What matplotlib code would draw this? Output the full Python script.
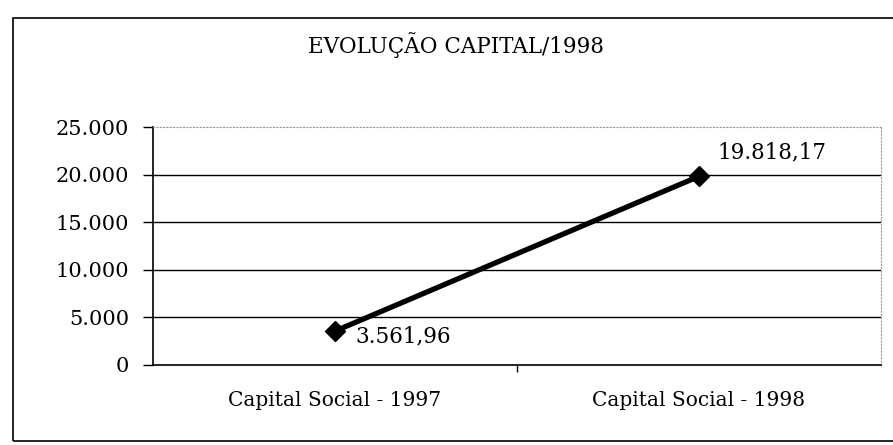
import numpy as np
from matplotlib import pyplot as plt
from matplotlib.ticker import FuncFormatter, FixedLocator
from matplotlib.patches import Rectangle

categories = ['Capital Social - 1997', 'Capital Social - 1998']
values = [3561.96, 19818.17]
y_ticks = [0, 5000, 10000, 15000, 20000, 25000]
title = 'EVOLUÇÃO CAPITAL/1998'


def br_number(v, decimals=0):
    s = f'{v:,.{decimals}f}'
    return s.replace(',', '#').replace('.', ',').replace('#', '.')


plt.rcParams['font.family'] = ['DejaVu Serif']

fig = plt.figure(figsize=(8.93, 4.45), dpi=100)
ax = fig.add_axes([0.1713, 0.1798, 0.8153, 0.5348])

# outer frame of the scanned chart
fig.patches.append(Rectangle((13 / 893, 1 - 441 / 445), 0.99, (441 - 18) / 445,
                             transform=fig.transFigure, fill=False,
                             edgecolor='black', lw=1.2))

x = np.arange(len(categories))
ax.set_xlim(-0.5, 1.5)
ax.set_ylim(0, 25000)

for t in y_ticks[1:-1]:
    ax.axhline(t, color='black', lw=1.0, zorder=1)

ax.plot(x, values, color='black', lw=3.8, marker='D', markersize=10, zorder=3)

offsets = [(15, -4), (13, 17)]
for xi, v, off in zip(x, values, offsets):
    ax.annotate(br_number(v, 2), (xi, v), xytext=off, textcoords='offset points',
                ha='left', va='center', fontsize=15.5)

ax.set_yticks(y_ticks)
ax.yaxis.set_major_formatter(FuncFormatter(lambda v, p: br_number(v)))
ax.tick_params(axis='y', length=7, width=1, pad=10, labelsize=15)

ax.set_xticks(x)
ax.set_xticklabels(categories, fontsize=14.5)
ax.xaxis.set_minor_locator(FixedLocator([0.5]))
ax.tick_params(axis='x', which='major', length=0, pad=19)
ax.tick_params(axis='x', which='minor', length=5, width=1)

ax.spines['left'].set_linewidth(1.2)
ax.spines['bottom'].set_linewidth(1.2)
ax.spines['top'].set_color('#999999')
ax.spines['top'].set_linestyle((0, (1, 2)))
ax.spines['right'].set_color('#999999')
ax.spines['right'].set_linestyle((0, (1, 2)))

fig.text(456 / 893, 1 - 45 / 445, title, ha='center', va='center', fontsize=15.5)

plt.savefig('out.png', dpi=100)
